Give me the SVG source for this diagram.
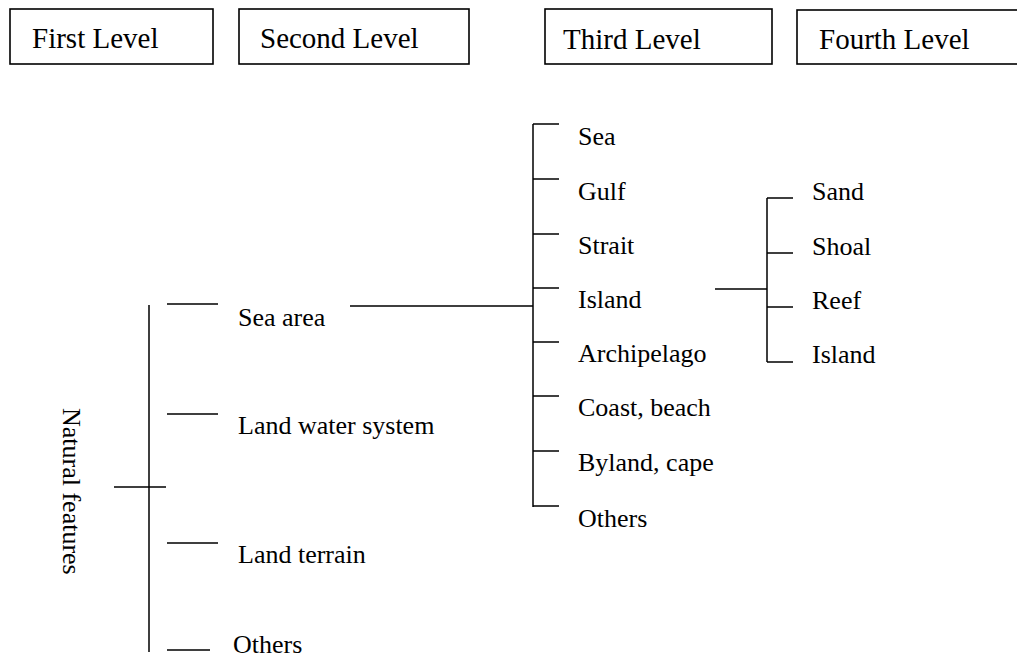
<svg xmlns="http://www.w3.org/2000/svg" width="1017" height="659" viewBox="0 0 1017 659">
<style>
.box{fill:#fff;stroke:#000;stroke-width:1.6}
.h{font-family:'Liberation Serif','DejaVu Serif',serif;font-size:29px;fill:#000}
.t{font-family:'Liberation Serif','DejaVu Serif',serif;font-size:26px;fill:#000}
.c{stroke:#000;stroke-width:1.5;fill:none}
</style>
<rect width="1017" height="659" fill="#fff"/>
<g id="header-first"><rect class="box" x="10" y="9" width="203" height="55"/><text class="h" x="32" y="48">First Level</text></g>
<g id="header-second"><rect class="box" x="239" y="9" width="230" height="55"/><text class="h" x="260" y="48">Second Level</text></g>
<g id="header-third"><rect class="box" x="545" y="9" width="227" height="55"/><text class="h" x="563" y="49">Third Level</text></g>
<g id="header-fourth"><rect class="box" x="797" y="10" width="240" height="54"/><text class="h" x="819" y="49">Fourth Level</text></g>

<g id="connectors">
<path class="c" d="M149 305V652M114 487H166M167 304H218M167 414H218M167 543H218M167 650H210"/>
<path class="c" d="M350 306H533M533 124V507M533 124H559M533 179H559M533 234H559M533 288H559M533 342H559M533 396H559M533 451H559M533 506H559"/>
<path class="c" d="M715 289H767M767 198V362M767 198H793M767 253H793M767 307H793M767 362H793"/>
</g>

<g id="natural-features"><text class="t" transform="translate(63,408) rotate(90)">Natural features</text></g>
<g id="sea-area"><text class="t" x="238" y="326">Sea area</text></g>
<g id="land-water-system"><text class="t" x="238" y="434">Land water system</text></g>
<g id="land-terrain"><text class="t" x="238" y="563">Land terrain</text></g>
<g id="others-2"><text class="t" x="233" y="653">Others</text></g>

<g id="sea"><text class="t" x="578" y="145">Sea</text></g>
<g id="gulf"><text class="t" x="578" y="200">Gulf</text></g>
<g id="strait"><text class="t" x="578" y="254">Strait</text></g>
<g id="island-3"><text class="t" x="578" y="308">Island</text></g>
<g id="archipelago"><text class="t" x="578" y="362">Archipelago</text></g>
<g id="coast-beach"><text class="t" x="578" y="416">Coast, beach</text></g>
<g id="byland-cape"><text class="t" x="578" y="471">Byland, cape</text></g>
<g id="others-3"><text class="t" x="578" y="527">Others</text></g>

<g id="sand"><text class="t" x="812" y="200">Sand</text></g>
<g id="shoal"><text class="t" x="812" y="255">Shoal</text></g>
<g id="reef"><text class="t" x="812" y="309">Reef</text></g>
<g id="island-4"><text class="t" x="812" y="363">Island</text></g>
</svg>
